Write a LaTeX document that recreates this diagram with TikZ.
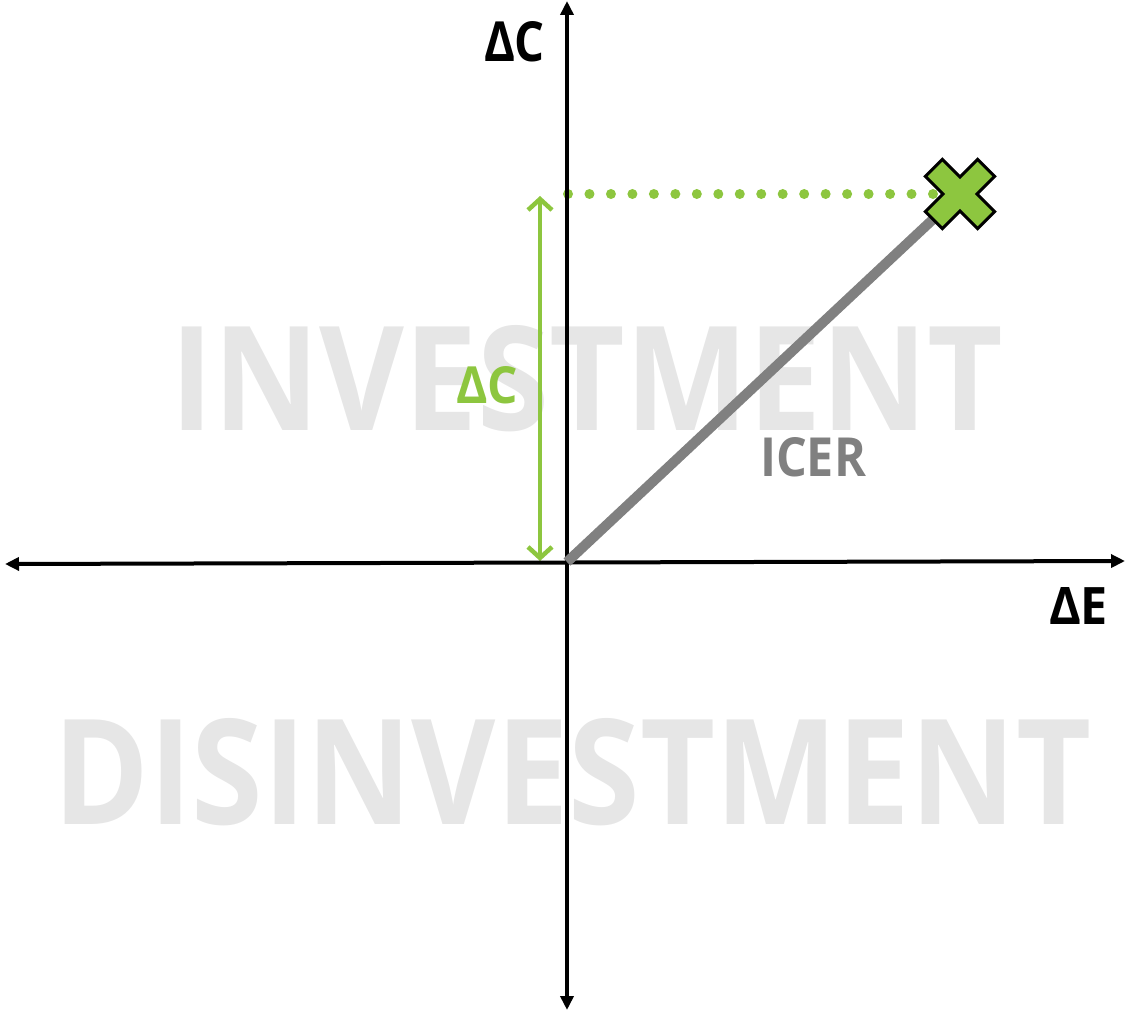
\documentclass[tikz,border=0pt]{standalone}
\usepackage{fontspec}
\setmainfont{Open Sans}
\usetikzlibrary{arrows.meta}
\definecolor{lgreen}{RGB}{141,198,63}
\definecolor{lgray}{RGB}{230,230,230}
\definecolor{mgray}{RGB}{128,128,128}
\begin{document}
\begin{tikzpicture}[x=1pt,y=-1pt,
  lbl/.style={inner sep=0pt, outer sep=0pt, anchor=south west, font=\bfseries},
  axisline/.style={line width=4pt, {Triangle[length=14pt,width=13pt]}-{Triangle[length=14pt,width=13pt]}},
  barbs/.style={lgreen, line width=4.5pt, {Straight Barb[length=11pt,width=24pt,line width=4.5pt]}-{Straight Barb[length=11pt,width=24pt,line width=4.5pt]}},
  dots/.style={lgreen, line width=10pt, line cap=round, dash pattern=on 0pt off 21.47pt},
  icerline/.style={mgray, line width=10pt},
  cross/.style={fill=lgreen, draw=black, line width=3pt, line join=miter}]
\useasboundingbox (0,0) rectangle (1126,1011);
% background words
\node[lbl, text=lgray] (inv) at (170,432) {\resizebox{833pt}{105pt}{INVESTMENT}};
\node[lbl, text=lgray] (dis) at (53,826) {\resizebox{1038pt}{106pt}{DISINVESTMENT}};
% coordinates
\coordinate (L) at (5,564);
\coordinate (R) at (1125,561);
\coordinate (T) at (567,1);
\coordinate (B) at (567,1010);
\coordinate (O) at (567,562);
\coordinate (P) at (960,194);
\coordinate (d0) at (568,194);
\coordinate (d1) at (934,194);
\coordinate (g0) at (540,196);
\coordinate (g1) at (540,561);
% dotted line
\draw[dots] (d0) -- (d1);
% green double arrow
\draw[barbs] (g0) -- (g1);
% axes
\draw[axisline] (L) -- (R);
\draw[axisline] (T) -- (B);
% ICER line
\draw[icerline] (O) -- (P);
% cross marker
\begin{scope}[shift={(P)}, rotate=45]
\draw[cross] (12,37) -- (12,12) -- (37,12) -- (37,-12) -- (12,-12) -- (12,-37)
  -- (-12,-37) -- (-12,-12) -- (-37,-12) -- (-37,12) -- (-12,12) -- (-12,37) -- cycle;
\end{scope}
% labels
\node[lbl, text=black] (dc) at (484,62) {\resizebox{61pt}{40pt}{ΔC}};
\node[lbl, text=black] (de) at (1049,624) {\resizebox{59pt}{37pt}{ΔE}};
\node[lbl, text=lgreen] (gdc) at (456,404) {\resizebox{62pt}{37pt}{ΔC}};
\node[lbl, text=mgray] (icer) at (760,477) {\resizebox{106pt}{39pt}{ICER}};
\end{tikzpicture}
\end{document}
